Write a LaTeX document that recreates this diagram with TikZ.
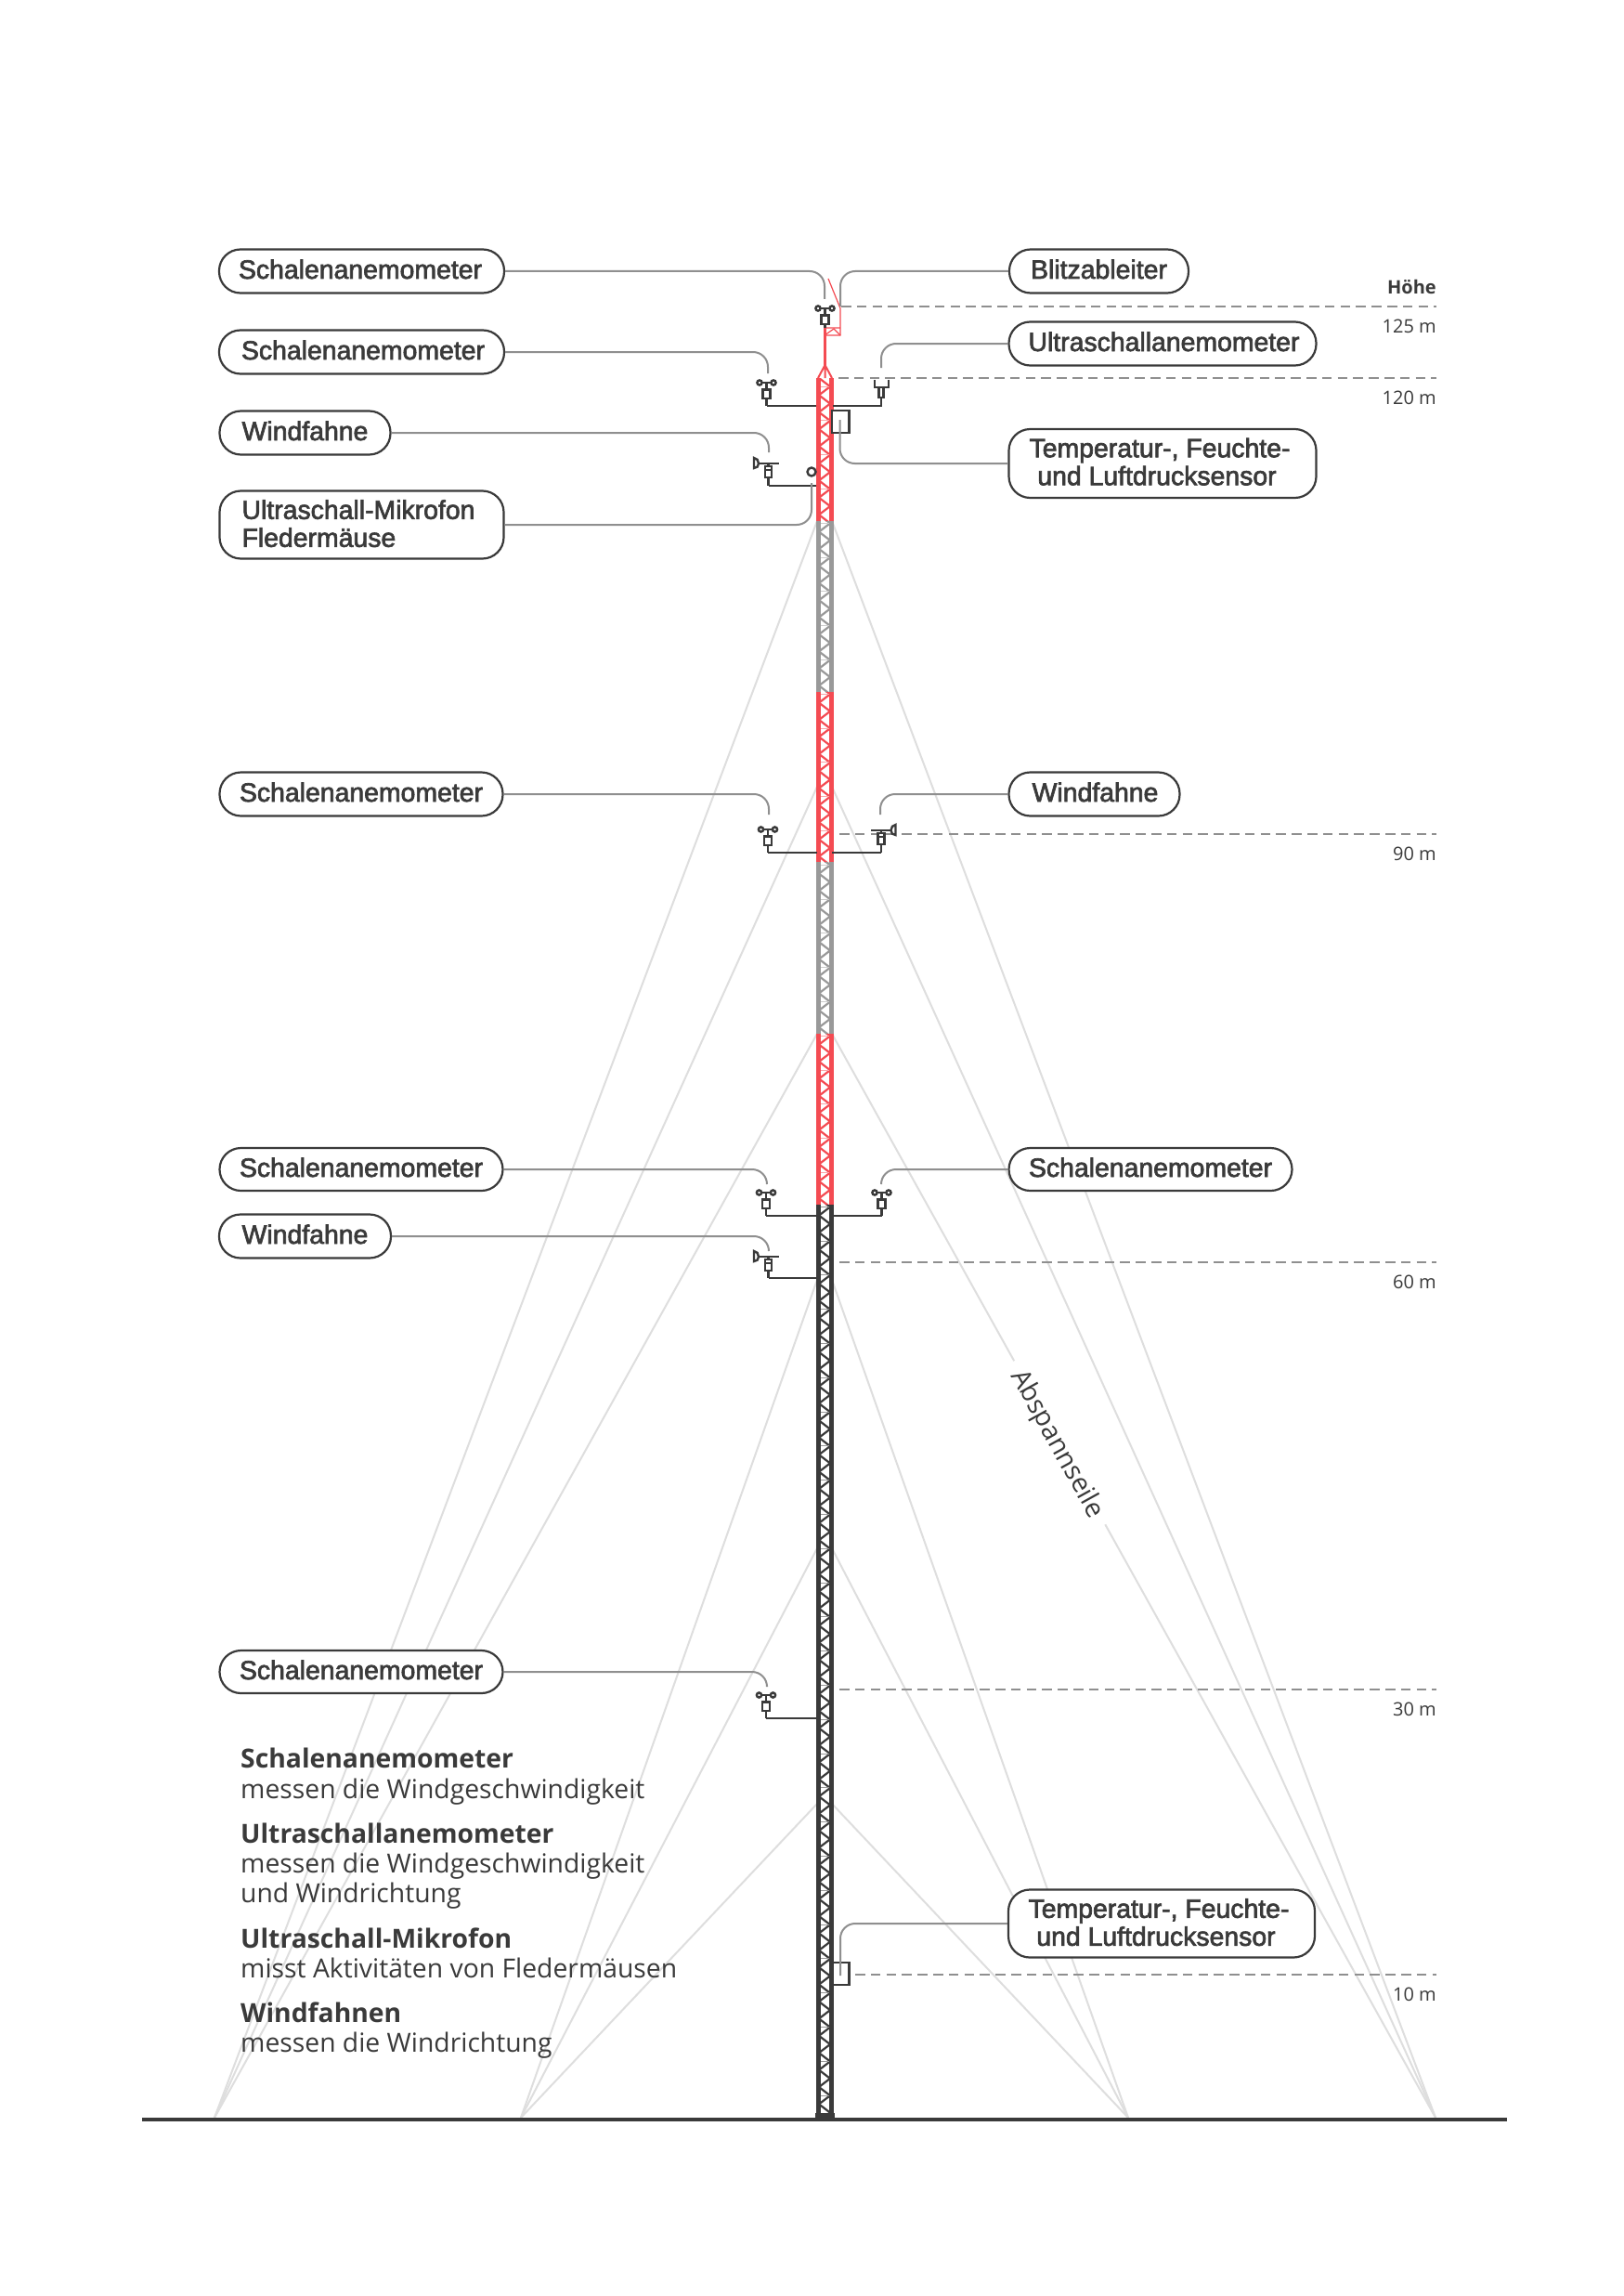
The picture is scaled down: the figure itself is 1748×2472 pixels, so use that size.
\documentclass[tikz,border=0pt]{standalone}
\usepackage{fontspec}
\setmainfont{Open Sans}
\newfontfamily\pillfont[FakeBold=2.4]{Liberation Sans}
\definecolor{ink}{HTML}{3A3A3A}
\definecolor{leadc}{HTML}{8F8F8F}
\definecolor{guyc}{HTML}{DEDEDE}
\definecolor{redc}{HTML}{F44B52}
\definecolor{grayc}{HTML}{999999}
\tikzset{
  pill/.style={draw=ink,line width=2.2pt,fill=white,rounded corners=23pt,text=ink,inner sep=0pt,
    font=\pillfont\fontsize{28.4}{30}\selectfont,text height=21pt,text depth=5pt},
  pilltwo/.style={draw=ink,line width=2.2pt,fill=white,rounded corners=23pt,text=ink,inner sep=0pt,
    font=\pillfont\fontsize{28.4}{30}\selectfont},
  leader/.style={draw=leadc,line width=2pt,rounded corners=16pt},
  guy/.style={draw=guyc,line width=2pt},
  level/.style={draw=leadc,line width=2pt,dash pattern=on 10.5pt off 6.3pt},
  arm/.style={draw=ink,line width=2.4pt},
  lab/.style={anchor=base east,text=ink,font=\fontsize{20}{24}\selectfont,inner sep=0pt},
  legb/.style={anchor=base west,text=ink,font=\bfseries\fontsize{28.3}{33}\selectfont,inner sep=0pt},
  legn/.style={anchor=base west,text=ink,font=\fontsize{28.3}{33}\selectfont,inner sep=0pt},
}
\newcommand{\towerseg}[4]{%
  \begin{scope}
    \clip (870,#1) rectangle (905,#2);
    \foreach \k in {0,...,102}{
      \pgfmathsetmacro{\ya}{407+18.4*\k}
      \pgfmathsetmacro{\yb}{\ya+9.2}
      \pgfmathsetmacro{\yc}{\ya+18.4}
      \draw[draw=#3,line width=2.2pt] (882,\ya) -- (894,\yb) -- (882,\yc);
    }
    \foreach \k in {0,...,51}{
      \pgfmathsetmacro{\ya}{416+36.8*\k}
      \draw[draw=#4,line width=1pt] (882,\ya) -- (894,\ya);
    }
    \draw[draw=#3,line width=4.6pt] (881.7,#1) -- (881.7,#2) (895.5,#1) -- (895.5,#2);
  \end{scope}}
% x stem, y cross, y arm end
\newcommand{\cupicon}[3]{%
  \draw[arm] (#1,#2) -- (#1,#3);
  \draw[arm] (#1-7.5,#2) -- (#1+7.5,#2);
  \draw[arm,fill=white] (#1-7.5,#2) circle (2.6pt) (#1+7.5,#2) circle (2.6pt);
  \draw[arm,fill=white] (#1-4,#2+7.5) rectangle (#1+4,#2+17);}
% x stem, y rod, y arm end, direction
\newcommand{\vaneicon}[4]{%
  \begin{scope}[shift={(#1,0)},xscale=#4]
    \draw[arm] (0,#2) -- (0,#3);
    \draw[arm] (-10.5,#2) -- (11.5,#2);
    \draw[arm,fill=white] (-15.5,#2-6) -- (-15.5,#2+5) .. controls (-12.5,#2+5) and (-10.5,#2+3) .. (-10.5,#2) .. controls (-10.5,#2-3) and (-12.5,#2-6) .. (-15.5,#2-6) -- cycle;
    \draw[arm,fill=white] (-3.5,#2+3) rectangle (3.5,#2+15);
    \draw[arm] (-3.5,#2+7) -- (3.5,#2+7);
  \end{scope}}
\begin{document}
\begin{tikzpicture}[x=1pt,y=-1pt]
\useasboundingbox[fill=white] (0,0) rectangle (1748,2472);
% anchor points
\coordinate (aL) at (231,2280);
\coordinate (aM) at (561,2280);
\coordinate (aR) at (1215,2280);
\coordinate (aF) at (1546,2280);
\foreach \n/\y in {a/561,b/847,c/1113}{
  \coordinate (l\n) at (880,\y);
  \coordinate (r\n) at (896,\y);
  \draw[guy] (l\n) -- (aL);
  \draw[guy] (r\n) -- (aF);
}
\foreach \n/\y in {d/1378,e/1667,f/1942}{
  \coordinate (l\n) at (880,\y);
  \coordinate (r\n) at (896,\y);
  \draw[guy] (l\n) -- (aM);
  \draw[guy] (r\n) -- (aR);
}
\node[rotate=-61,fill=white,inner xsep=12pt,inner ysep=2pt,text=ink,font=\fontsize{28.5}{30}\selectfont] (guylabel) at (1138,1555) {Abspannseile};
% levels
\foreach \n/\x/\y/\t in {A/906/330/125 m,B/903/407/120 m,C/904/898/90 m,D/904/1359/60 m,E/904/1819/30 m,F/921/2126/10 m}{
  \coordinate (s\n) at (\x,\y);
  \coordinate (e\n) at (1547,\y);
  \draw[level] (s\n) -- (e\n);
  \node[lab] (t\n) at (1547,\y+28) {\t};
}
\node[lab,font=\bfseries\fontsize{20}{24}\selectfont] (hoehe) at (1547,317) {Höhe};
% ground
\draw[draw=ink,line width=4.4pt] (153,2282) -- (1623,2282);
% tower
\towerseg{407}{561}{redc}{redc!50}
\towerseg{561}{745}{grayc}{grayc!50}
\towerseg{745}{928}{redc}{redc!50}
\towerseg{928}{1113}{grayc}{grayc!50}
\towerseg{1113}{1297}{redc}{redc!50}
\towerseg{1297}{2282}{ink}{grayc}
\fill[ink] (878,2275) rectangle (899,2284);
% top rod
\draw[draw=redc,line width=2.4pt] (888.5,353) -- (888.5,393);
\draw[draw=redc,line width=2pt] (881,407) -- (888.5,393) -- (896,407) (888.5,393) -- (888.5,407);
\draw[draw=redc,line width=1.2pt] (892,300) -- (905,332) -- (905,361) -- (888,361) -- (888,353) -- (905,353);
\draw[draw=redc,line width=1.2pt] (888,361) -- (898,354) -- (905,361);
% sensors
\cupicon{888.5}{332}{353}
\cupicon{825.5}{412}{437}
\draw[arm] (825.5,437) -- (879,437);
\draw[arm] (897,437) -- (949,437) -- (949,428);
\draw[arm] (942,409) -- (942,417) -- (957,417) -- (957,409);
\draw[arm] (949,417) -- (949,428);
\draw[arm,fill=white] (946.5,417) rectangle (951.5,428);
\draw[arm,fill=white] (896,442) rectangle (914.5,466);
\vaneicon{827.5}{499}{523}{1}
\draw[arm] (827.5,523) -- (879,523);
\draw[arm,fill=white] (874,508) circle (4.5pt);
\cupicon{827}{893}{918}
\draw[arm] (827,918) -- (880,918);
\vaneicon{949}{894}{918}{-1}
\draw[arm] (896,918) -- (949,918);
\cupicon{825}{1284}{1309}
\draw[arm] (825,1309) -- (879,1309);
\cupicon{949.5}{1284}{1309}
\draw[arm] (897,1309) -- (949.5,1309);
\vaneicon{827.5}{1353}{1376}{1}
\draw[arm] (827.5,1376) -- (879,1376);
\cupicon{825}{1825}{1850}
\draw[arm] (825,1850) -- (879,1850);
\draw[arm,fill=white] (896.5,2113) rectangle (914.5,2137);
% pills
\node[pill,minimum width=307pt,minimum height=47pt] (p1) at (389.5,292) {Schalenanemometer\hspace*{3pt}};
\node[pill,minimum width=307pt,minimum height=47pt] (p2) at (389.5,379) {\hspace*{3pt}Schalenanemometer};
\node[pill,minimum width=184pt,minimum height=47pt] (p3) at (328.5,466) {Windfahne};
\node[pilltwo,align=left,minimum width=306pt,minimum height=73pt] (p4) at (389.5,565) {Ultraschall-Mikrofon\hspace*{7pt}\\Fledermäuse\rule[-3pt]{0pt}{3pt}};
\node[pill,minimum width=193pt,minimum height=47pt] (q1) at (1183.5,292) {Blitzableiter};
\node[pill,minimum width=331pt,minimum height=47pt] (q2) at (1252,370) {\hspace*{3pt}Ultraschallanemometer};
\node[pilltwo,align=center,minimum width=331pt,minimum height=74pt] (q3) at (1252,499) {Temperatur-, Feuchte-\hspace*{6pt}\\und Luftdrucksensor\hspace*{12pt}\rule[-4pt]{0pt}{4pt}};
\node[pill,minimum width=305pt,minimum height=47pt] (p5) at (389,855) {Schalenanemometer};
\node[pill,minimum width=184pt,minimum height=47pt] (q4) at (1178.5,855) {\hspace*{2pt}Windfahne};
\node[pill,minimum width=305pt,minimum height=46pt] (p6) at (389,1259) {Schalenanemometer};
\node[pill,minimum width=305pt,minimum height=46pt] (q5) at (1239,1259) {Schalenanemometer};
\node[pill,minimum width=185pt,minimum height=47pt] (p7) at (328.5,1331) {Windfahne};
\node[pill,minimum width=305pt,minimum height=46pt] (p8) at (389,1800) {Schalenanemometer};
\node[pilltwo,align=center,minimum width=330pt,minimum height=73pt] (q6) at (1251,2071) {Temperatur-, Feuchte-\hspace*{6pt}\\und Luftdrucksensor\hspace*{12pt}\rule[-3pt]{0pt}{3pt}};
% leaders
\coordinate (c1) at (888,322); \draw[leader] (p1.east) -| (c1);
\coordinate (c2) at (827,402); \draw[leader] (p2.east) -| (c2);
\coordinate (c3) at (828,487); \draw[leader] (p3.east) -| (c3);
\coordinate (c4) at (874,520); \draw[leader] (p4.east) -| (c4);
\coordinate (d1) at (905,330); \draw[leader] (q1.west) -| (d1);
\coordinate (d2) at (949,396); \draw[leader] (q2.west) -| (d2);
\coordinate (d3) at (904.5,452); \draw[leader] (q3.west) -| (d3);
\coordinate (c5) at (828,877); \draw[leader] (p5.east) -| (c5);
\coordinate (d4) at (948,877); \draw[leader] (q4.west) -| (d4);
\coordinate (c6) at (826,1275); \draw[leader] (p6.east) -| (c6);
\coordinate (d5) at (949,1275); \draw[leader] (q5.west) -| (d5);
\coordinate (c7) at (828,1347); \draw[leader] (p7.east) -| (c7);
\coordinate (c8) at (826,1815); \draw[leader] (p8.east) -| (c8);
\coordinate (d6) at (905,2127); \draw[leader] (q6.west) -| (d6);
% legend
\node[legb] (l1) at (259,1903) {Schalenanemometer};
\node[legn] (l2) at (259,1936) {messen die Windgeschwindigkeit};
\node[legb] (l3) at (259,1984) {Ultraschallanemometer};
\node[legn] (l4) at (259,2016) {messen die Windgeschwindigkeit};
\node[legn] (l5) at (259,2048) {und Windrichtung};
\node[legb] (l6) at (259,2097) {Ultraschall-Mikrofon};
\node[legn] (l7) at (259,2129) {misst Aktivitäten von Fledermäusen};
\node[legb] (l8) at (259,2177) {Windfahnen};
\node[legn] (l9) at (259,2209) {messen die Windrichtung};
\end{tikzpicture}
\end{document}
